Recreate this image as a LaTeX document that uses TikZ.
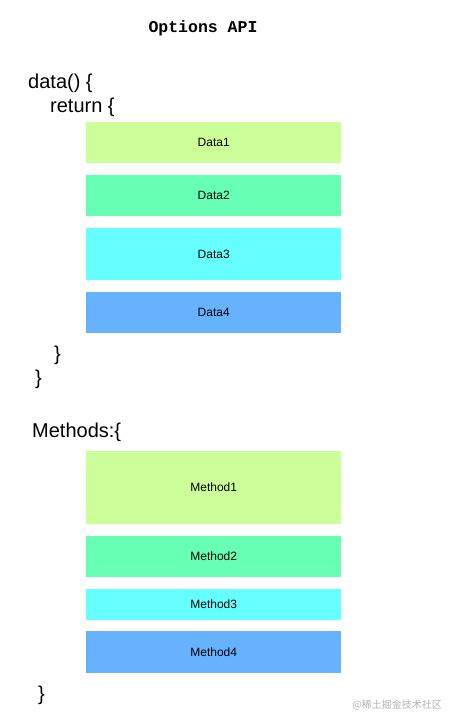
\documentclass[tikz,border=0pt]{standalone}
\usepackage{fontspec}
\setmainfont{Liberation Sans}
\newfontfamily\monofont{Liberation Mono}
\newfontfamily\cjk{Noto Sans CJK SC}
\definecolor{cgreen}{HTML}{CCFF99}
\definecolor{cmint}{HTML}{66FFB3}
\definecolor{ccyan}{HTML}{66FFFF}
\definecolor{cblue}{HTML}{66B2FF}
\begin{document}
\begin{tikzpicture}[x=1pt,y=-1pt,
  box/.style={fill=#1,draw=none,minimum width=255pt,anchor=north west,inner sep=0pt,font=\fontsize{12}{14}\selectfont},
  code/.style={anchor=west,inner sep=0pt,font=\fontsize{20}{24}\selectfont}]
\useasboundingbox[fill=white] (0,0) rectangle (449,721);
\node[inner sep=0pt,font=\monofont\bfseries\fontsize{16.5}{20}\selectfont] (title) at (203,28) {Options API};
\node[code] (l1) at (28,83) {data() \{};
\node[code] (l2) at (50,107) {return \{};
\node[box=cgreen,minimum height=41pt] (d1) at (86,122) {Data1};
\node[box=cmint,minimum height=41pt] (d2) at (86,175) {Data2};
\node[box=ccyan,minimum height=52pt] (d3) at (86,228) {Data3};
\node[box=cblue,minimum height=41pt] (d4) at (86,292) {Data4};
\node[code] (c1) at (54,355) {\}};
\node[code] (c2) at (35,379) {\}};
\node[code] (m0) at (32,432) {Methods:\{};
\node[box=cgreen,minimum height=73pt] (m1) at (86,451) {Method1};
\node[box=cmint,minimum height=41pt] (m2) at (86,536) {Method2};
\node[box=ccyan,minimum height=31pt] (m3) at (86,589) {Method3};
\node[box=cblue,minimum height=42pt] (m4) at (86,631) {Method4};
\node[code] (c3) at (38,695) {\}};
\node[anchor=east,inner sep=0pt,text=black!30,font=\cjk\fontsize{10}{12}\selectfont] (wm) at (442,705) {@稀土掘金技术社区};
\end{tikzpicture}
\end{document}
